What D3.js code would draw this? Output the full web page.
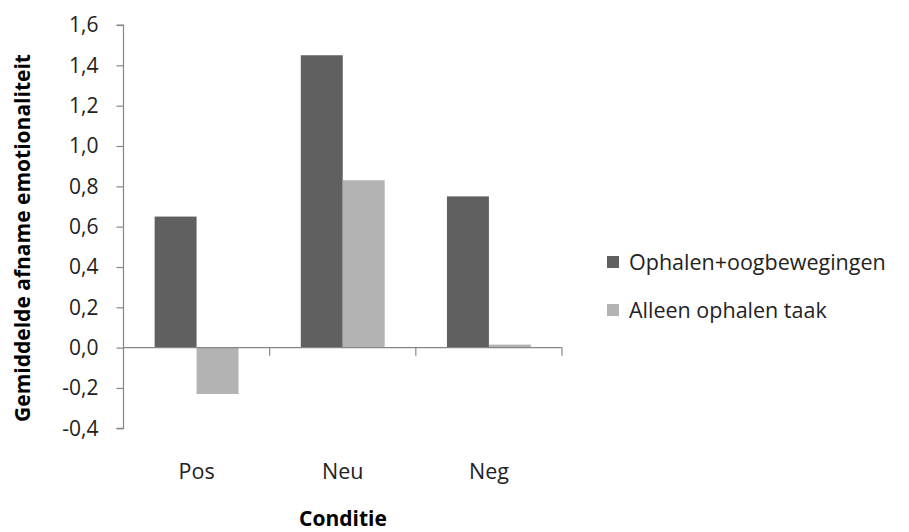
<!DOCTYPE html>
<html><head><meta charset="utf-8">
<script src="https://cdn.jsdelivr.net/npm/d3@7"></script>
<style>body{margin:0;background:#fff}svg{display:block}text{font-family:"Open Sans",sans-serif}</style>
</head><body><svg id="c" width="909" height="532"></svg>
<script>
const categories = ["Pos", "Neu", "Neg"];
const seriesNames = ["Ophalen+oogbewegingen", "Alleen ophalen taak"];
const seriesOphalenOog = [0.65, 1.45, 0.75];
const seriesAlleen = [-0.23, 0.83, 0.015];
const yTicks = [-0.4, -0.2, 0, 0.2, 0.4, 0.6, 0.8, 1.0, 1.2, 1.4, 1.6];
const colors = ["#606060", "#b3b3b3"];
const yTitle = "Gemiddelde afname emotionaliteit";
const xTitle = "Conditie";

const svg = d3.select("#c");
const L = 123.5, R = 562, T = 25, B = 428.3;
const y = d3.scaleLinear().domain([-0.4, 1.6]).range([B, T]);
const x = d3.scaleBand().domain(categories).range([L, R]).paddingInner(0).paddingOuter(0);
const sub = d3.scaleBand().domain([0, 1]).range([0, x.bandwidth()]).paddingOuter(0.742).paddingInner(0);
const axisColor = "#868686";
const textColor = "#222";

const series = [seriesOphalenOog, seriesAlleen];
series.forEach((vals, si) => {
  svg.append("g").selectAll("rect").data(vals).join("rect")
    .attr("x", (d, i) => x(categories[i]) + sub(si))
    .attr("width", sub.bandwidth())
    .attr("y", d => y(Math.max(0, d)))
    .attr("height", d => Math.abs(y(d) - y(0)))
    .attr("fill", colors[si]);
});

const yAxis = d3.axisLeft(y).tickValues(yTicks).tickSize(7).tickPadding(18)
  .tickFormat(d => d3.format(".1f")(d).replace(".", ",").replace("−", "-"));
const gy = svg.append("g").attr("transform", `translate(${L},0)`).call(yAxis);
gy.select(".domain").attr("stroke", axisColor).attr("d", `M-7,${T}H0V${B}H-7`).attr("stroke-width", 1.2);
gy.selectAll(".tick line").attr("stroke", axisColor).attr("stroke-width", 1.2);
gy.selectAll(".tick text").attr("fill", textColor).style("font-size", "21px").style("font-family", "'Open Sans'");

const gx = svg.append("g").attr("transform", `translate(0,${y(0)})`);
gx.append("line").attr("x1", L).attr("x2", R).attr("stroke", axisColor).attr("stroke-width", 1.2);
const bounds = categories.map(c => x(c) + x.bandwidth());
gx.selectAll("line.t").data(bounds).join("line").attr("class", "t")
  .attr("x1", d => d).attr("x2", d => d).attr("y1", 0).attr("y2", 8)
  .attr("stroke", axisColor).attr("stroke-width", 1.2);

svg.append("g").selectAll("text").data(categories).join("text")
  .attr("x", d => x(d) + x.bandwidth() / 2).attr("y", 479)
  .attr("text-anchor", "middle").attr("fill", textColor).style("font-size", "21.5px")
  .text(d => d);

svg.append("text").attr("x", 343).attr("y", 526).attr("text-anchor", "middle")
  .attr("fill", "#000").style("font-size", "21px").style("font-weight", "bold").text(xTitle);
svg.append("text").attr("transform", "translate(30,238) rotate(-90)").attr("text-anchor", "middle")
  .attr("fill", "#000").style("font-size", "21px").style("font-weight", "bold").text(yTitle);

const lg = svg.append("g").attr("transform", "translate(607,0)");
seriesNames.forEach((n, i) => {
  const cy = 262 + i * 48;
  lg.append("rect").attr("x", 0).attr("y", cy - 6).attr("width", 12).attr("height", 12).attr("fill", colors[i]);
  lg.append("text").attr("x", 22).attr("y", cy + 8).attr("fill", textColor).style("font-size", "21.5px").text(n);
});
</script></body></html>
